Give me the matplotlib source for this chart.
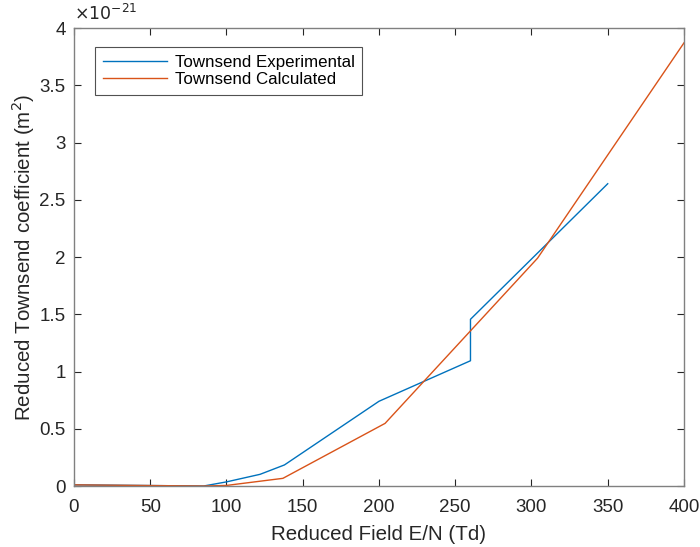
import numpy as np
import matplotlib.pyplot as plt
from matplotlib.ticker import FuncFormatter

plt.rcParams['font.family'] = ['Liberation Sans', 'DejaVu Sans']

# data (y in units of 1e-21 m^2)
exp_field = [0, 85, 100, 122, 138, 200, 260, 260, 350]
exp_coef = [0.01, 0.0, 0.036, 0.102, 0.184, 0.74, 1.094, 1.456, 2.64]
calc_field = [0, 85, 100, 137, 204, 304, 400]
calc_coef = [0.01, 0.0, 0.005, 0.067, 0.547, 1.99, 3.87]

xticks = [0, 50, 100, 150, 200, 250, 300, 350, 400]
yticks = [0, 0.5, 1, 1.5, 2, 2.5, 3, 3.5, 4]

blue = '#0072BD'
orange = '#D95319'
axcol = '#262626'

fig = plt.figure(figsize=(7, 5.47), dpi=100)
ax = fig.add_axes([0.1057, 0.1115, 0.8714, 0.8373])

ax.plot(exp_field, exp_coef, color=blue, lw=1.0, label='Townsend Experimental')
ax.plot(calc_field, calc_coef, color=orange, lw=1.0, label='Townsend Calculated')

ax.set_xlim(0, 400)
ax.set_ylim(0, 4)
ax.set_xticks(xticks)
ax.set_yticks(yticks)
ax.yaxis.set_major_formatter(FuncFormatter(lambda v, p: f'{v:g}'))
ax.tick_params(direction='in', top=True, right=True, length=5, width=0.8,
               colors=axcol, labelsize=13.5)
ax.tick_params(axis='x', pad=9.5)
ax.tick_params(axis='y', pad=6)
for s in ax.spines.values():
    s.set_color('#808080')
    s.set_linewidth(1.0)

ax.set_xlabel('Reduced Field E/N (Td)', fontsize=14.8, color=axcol, labelpad=6)
ax.set_ylabel('Reduced Townsend coefficient (m$^2$)', fontsize=14.8, color=axcol, labelpad=2)
ax.text(0.0, 1.012, r'$\times10^{-21}$', transform=ax.transAxes, fontsize=12.5,
        color=axcol, ha='left', va='bottom', math_fontfamily='dejavusans')

leg = ax.legend(loc='upper left', bbox_to_anchor=(0.0344, 0.9585), fontsize=12.2,
                frameon=True, fancybox=False, edgecolor=axcol, borderpad=0.45,
                handlelength=3.8, handletextpad=0.45, labelspacing=0.15, borderaxespad=0)
leg.get_frame().set_linewidth(0.8)

fig.savefig('out.png', dpi=100)
